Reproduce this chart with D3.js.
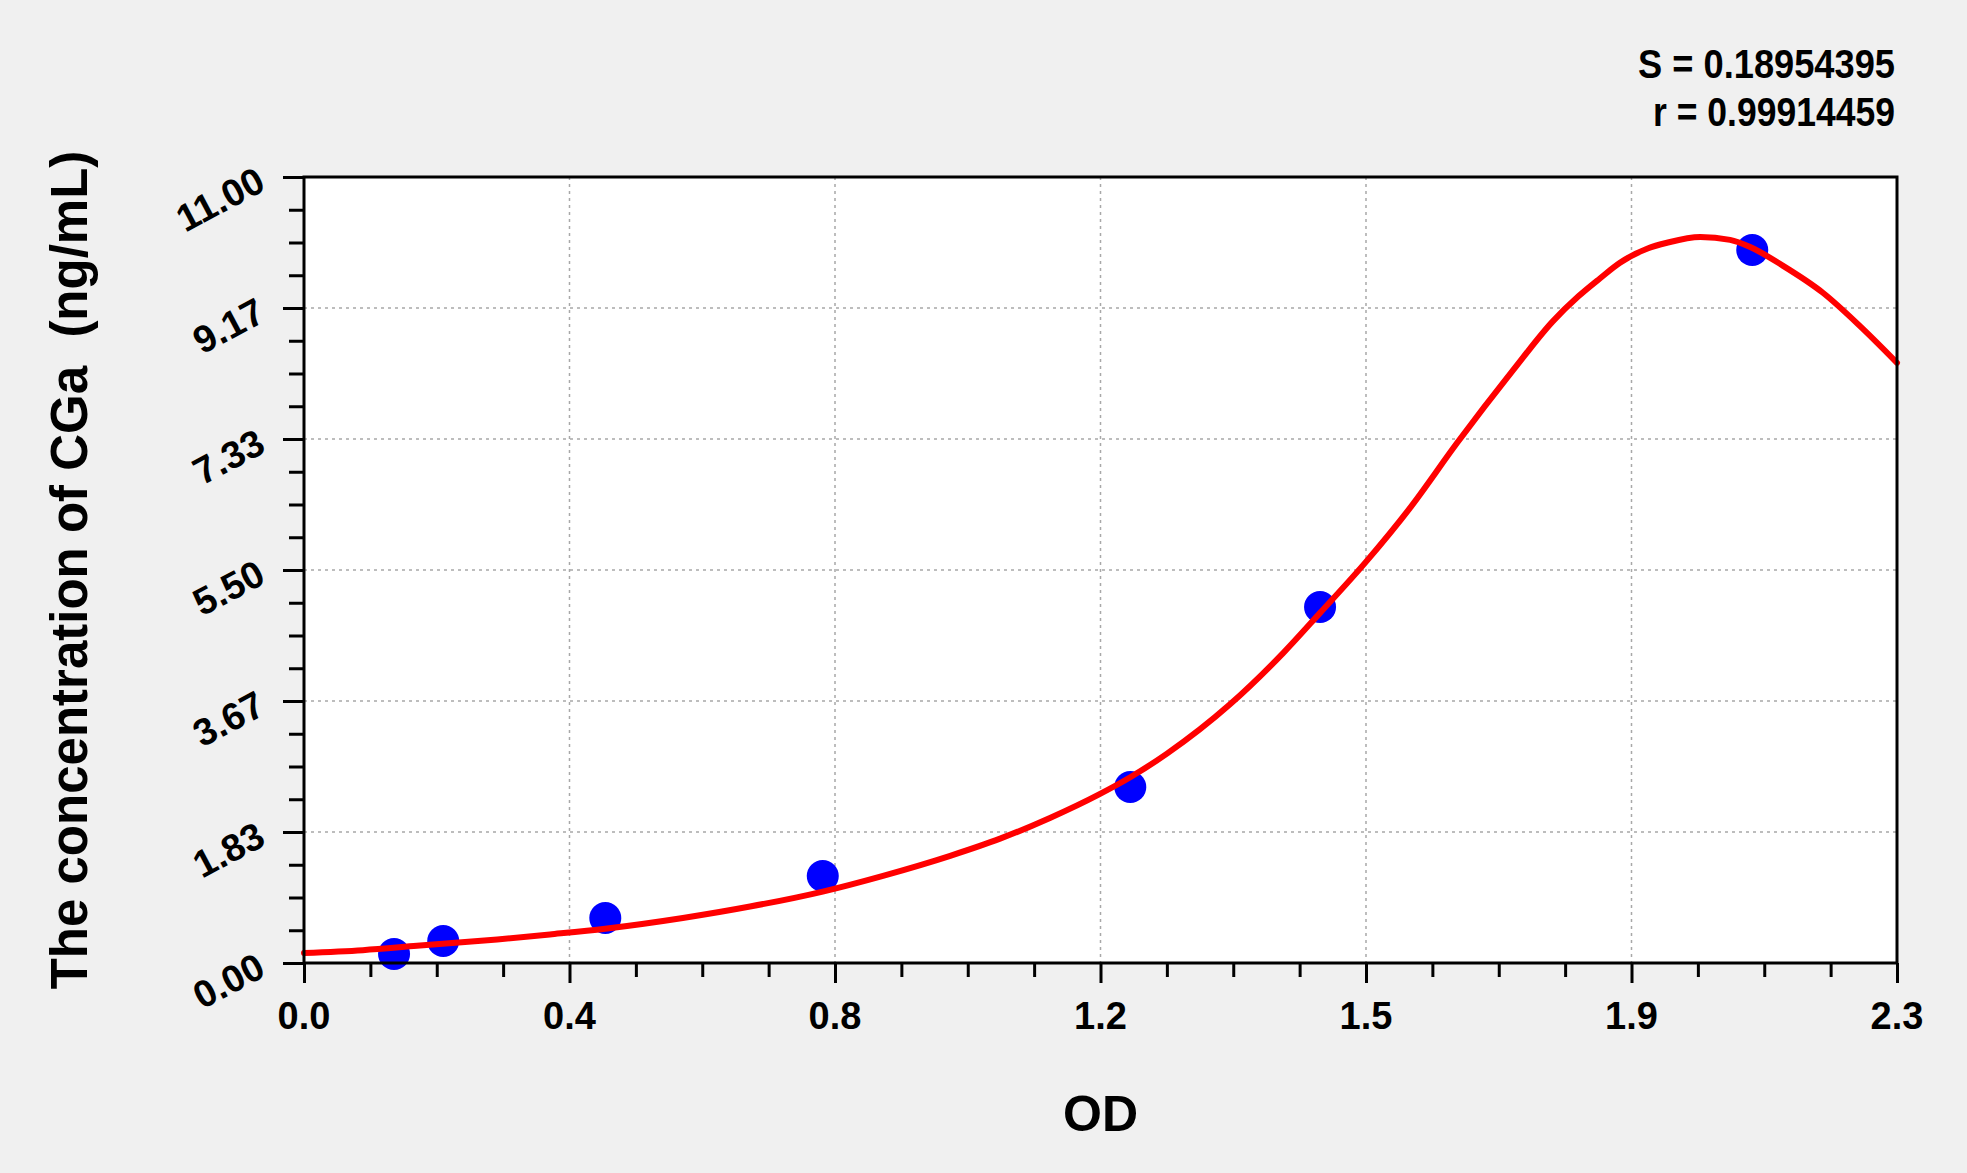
<!DOCTYPE html>
<html>
<head>
<meta charset="utf-8">
<script src="https://cdn.jsdelivr.net/npm/d3@7"></script>
<style>
  html, body { margin: 0; padding: 0; background: #f0f0f0; }
  svg { display: block; }
  text { font-family: "Liberation Sans", Arial, sans-serif; font-weight: bold; fill: #000; }
</style>
</head>
<body>
<svg id="chart" width="1967" height="1173"></svg>
<script>
// standard points
var odValues   = [0.130, 0.201, 0.435, 0.749, 1.193, 1.467, 2.091];
var concValues = [0.126, 0.308, 0.630, 1.218, 2.463, 4.982, 9.978];

// fitted curve
var fitOD   = [0.000, 0.085, 0.163, 0.279, 0.355, 0.435, 0.547, 0.644, 0.749, 0.836,
               0.933, 1.005, 1.077, 1.148, 1.193, 1.246, 1.337, 1.414, 1.467, 1.532,
               1.597, 1.665, 1.746, 1.803, 1.840, 1.871, 1.900, 1.940, 1.968, 2.016,
               2.059, 2.088, 2.135, 2.193, 2.247, 2.300];
var fitConc = [0.14, 0.18, 0.24, 0.33, 0.40, 0.48, 0.63, 0.79, 1.00, 1.22,
               1.50, 1.74, 2.03, 2.36, 2.60, 2.93, 3.62, 4.34, 4.90, 5.60,
               6.37, 7.28, 8.30, 8.98, 9.33, 9.58, 9.80, 10.00, 10.08, 10.16,
               10.12, 10.02, 9.76, 9.38, 8.91, 8.40];

var xTicks      = [0, 0.38333, 0.76667, 1.15, 1.53333, 1.91667, 2.3];
var xTickLabels = ["0.0", "0.4", "0.8", "1.2", "1.5", "1.9", "2.3"];
var yTicks      = [0, 1.83333, 3.66667, 5.5, 7.33333, 9.16667, 11];
var yTickLabels = ["0.00", "1.83", "3.67", "5.50", "7.33", "9.17", "11.00"];

var statLines = ["S = 0.18954395", "r = 0.99914459"];

var svg = d3.select('#chart');
var pLeft = 304, pRight = 1897, pTop = 177, pBottom = 963;

var x = d3.scaleLinear().domain([0, 2.3]).range([pLeft, pRight]);
var y = d3.scaleLinear().domain([0, 11]).range([pBottom, pTop]);

svg.append('rect')
    .attr('width', 1967).attr('height', 1173)
    .attr('fill', '#f0f0f0');

svg.append('rect')
    .attr('x', pLeft).attr('y', pTop)
    .attr('width', pRight - pLeft).attr('height', pBottom - pTop)
    .attr('fill', '#fff');

// grid
var grid = svg.append('g')
    .attr('stroke', '#a8a8a8')
    .attr('stroke-width', 1.5)
    .attr('stroke-dasharray', '3,4');

grid.selectAll('.gx')
    .data(xTicks.slice(1, -1))
    .enter().append('line')
    .attr('x1', function(d) { return x(d); })
    .attr('x2', function(d) { return x(d); })
    .attr('y1', pTop).attr('y2', pBottom);

grid.selectAll('.gy')
    .data(yTicks.slice(1, -1))
    .enter().append('line')
    .attr('y1', function(d) { return y(d); })
    .attr('y2', function(d) { return y(d); })
    .attr('x1', pLeft).attr('x2', pRight);

// minor ticks: 4 steps between majors
var xMinor = [], yMinor = [];
for (var i = 0; i < xTicks.length - 1; i++)
{
    var dx = (xTicks[i + 1] - xTicks[i]) / 4;
    var dy = (yTicks[i + 1] - yTicks[i]) / 4;
    for (var k = 1; k < 4; k++)
    {
        xMinor.push(xTicks[i] + k * dx);
        yMinor.push(yTicks[i] + k * dy);
    }
}

function styleAxis(g)
{
    g.select('.domain').remove();
    g.selectAll('line').attr('stroke', '#000').attr('stroke-width', 3);
    g.selectAll('text').remove();
}

svg.append('g')
    .attr('transform', 'translate(0,' + pBottom + ')')
    .call(d3.axisBottom(x).tickValues(xTicks).tickSize(20))
    .call(styleAxis);
svg.append('g')
    .attr('transform', 'translate(0,' + pBottom + ')')
    .call(d3.axisBottom(x).tickValues(xMinor).tickSize(14))
    .call(styleAxis);
svg.append('g')
    .attr('transform', 'translate(' + pLeft + ',0)')
    .call(d3.axisLeft(y).tickValues(yTicks).tickSize(21))
    .call(styleAxis);
svg.append('g')
    .attr('transform', 'translate(' + pLeft + ',0)')
    .call(d3.axisLeft(y).tickValues(yMinor).tickSize(15))
    .call(styleAxis);

// tick labels
svg.selectAll('.xl')
    .data(xTicks)
    .enter().append('text')
    .attr('x', function(d) { return x(d); })
    .attr('y', 1029)
    .attr('text-anchor', 'middle')
    .attr('font-size', 38)
    .text(function(d, i) { return xTickLabels[i]; });

svg.selectAll('.yl')
    .data(yTicks)
    .enter().append('text')
    .attr('transform', function(d) { return 'translate(261,' + y(d) + ') rotate(-28)'; })
    .attr('text-anchor', 'end')
    .attr('dy', '0.36em')
    .attr('font-size', 38)
    .text(function(d, i) { return yTickLabels[i]; });

// points first, fitted line over them
svg.selectAll('.pt')
    .data(odValues)
    .enter().append('circle')
    .attr('cx', function(d) { return x(d); })
    .attr('cy', function(d, i) { return y(concValues[i]); })
    .attr('r', 16)
    .attr('fill', '#0000ff');

var line = d3.line()
    .x(function(d) { return x(d); })
    .y(function(d, i) { return y(fitConc[i]); })
    .curve(d3.curveMonotoneX);

svg.append('path')
    .attr('d', line(fitOD))
    .attr('fill', 'none')
    .attr('stroke', '#ff0000')
    .attr('stroke-width', 6)
    .attr('stroke-linejoin', 'round')
    .attr('stroke-linecap', 'round');

// frame
svg.append('rect')
    .attr('x', pLeft).attr('y', pTop)
    .attr('width', pRight - pLeft).attr('height', pBottom - pTop)
    .attr('fill', 'none')
    .attr('stroke', '#000')
    .attr('stroke-width', 3);

// axis titles
svg.append('text')
    .attr('x', (pLeft + pRight) / 2)
    .attr('y', 1131)
    .attr('text-anchor', 'middle')
    .attr('font-size', 50)
    .text('OD');

svg.append('text')
    .attr('transform', 'translate(87,570) rotate(-90)')
    .attr('text-anchor', 'middle')
    .attr('font-size', 51)
    .attr('xml:space', 'preserve')
    .style('white-space', 'pre')
    .text('The concentration of CGa  (ng/mL)');

// fit statistics
var statWidths = [257, 242];
svg.selectAll('.stat')
    .data(statLines)
    .enter().append('text')
    .attr('x', 1895)
    .attr('y', function(d, i) { return 78 + i * 48; })
    .attr('text-anchor', 'end')
    .attr('font-size', 40)
    .attr('textLength', function(d, i) { return statWidths[i]; })
    .attr('lengthAdjust', 'spacingAndGlyphs')
    .text(function(d) { return d; });
</script>
</body>
</html>
